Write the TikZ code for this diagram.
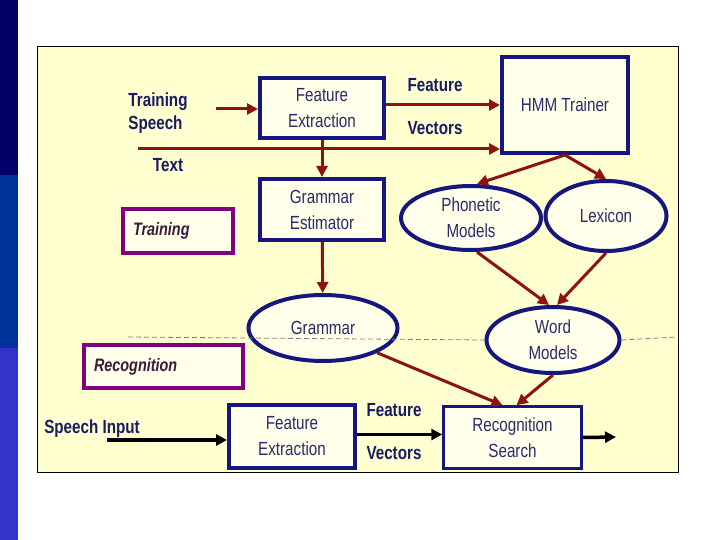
\documentclass[tikz,border=0pt]{standalone}
\usepackage{fontspec}
\setmainfont{Liberation Sans}[FakeStretch=0.8]
\usetikzlibrary{positioning, arrows.meta, shapes.geometric}

\definecolor{stripeA}{HTML}{000066}
\definecolor{stripeB}{HTML}{003399}
\definecolor{stripeC}{HTML}{3333CC}
\definecolor{panel}{HTML}{FFFFCF}
\definecolor{boxfill}{HTML}{FFFFEA}
\definecolor{boxblue}{HTML}{16167F}
\definecolor{boxtext}{HTML}{2B2B6B}
\definecolor{labtext}{HTML}{1A1A66}
\definecolor{tagpurple}{HTML}{800080}
\definecolor{tagtext}{HTML}{3A1A3A}
\definecolor{arrred}{HTML}{8E1212}

\newcommand{\labfont}{\fontsize{19}{23}\selectfont\bfseries}
\newcommand{\boxfont}{\fontsize{19}{26}\selectfont}

\begin{document}
\begin{tikzpicture}[x=1pt, y=-1pt,
  box/.style={draw=boxblue, line width=4pt, fill=boxfill, inner sep=0pt, align=center, font=\boxfont, text=boxtext},
  ell/.style={ellipse, draw=boxblue, line width=4pt, fill=boxfill, inner sep=0pt, align=center, font=\boxfont, text=boxtext},
  tag/.style={draw=tagpurple, line width=4pt, fill=boxfill, inner xsep=10pt, inner ysep=0pt, align=left, font=\fontsize{18}{22}\selectfont\bfseries\itshape, text=tagtext},
  lbl/.style={inner sep=0pt, align=left, font=\labfont, text=labtext},
  arr/.style={-{Triangle[length=11pt,width=11pt]}, line width=3pt, draw=arrred},
  blk/.style={-{Triangle[length=11pt,width=11pt]}, line width=3.5pt, draw=black}
]
\useasboundingbox (0,0) rectangle (720,540);
% --- slide stripe and panel ---
\fill[stripeA] (0,0) rectangle (18,175);
\fill[stripeB] (0,175) rectangle (18,348);
\fill[stripeC] (0,348) rectangle (18,540);
\draw[fill=panel, line width=1pt] (37,47) rectangle (678,472);

% --- training part ---
\node[lbl] (tspeech) at (158,113) {Training\\Speech};
\node[lbl] (txt)     at (168,165) {Text};
\node[box, minimum width=124pt, minimum height=60pt] (fe1) at (322,108) {Feature\\Extraction};
\node[box, minimum width=124pt, minimum height=61pt] (ge)  at (322,209.5) {Grammar\\Estimator};
\node[box, minimum width=126pt, minimum height=96pt] (hmm) at (565,105) {HMM Trainer};
\node[lbl] (fv1) at (435,85)  {Feature};
\node[lbl] (vv1) at (435,128) {Vectors};
\node[ell, minimum width=140pt, minimum height=64pt] (phon) at (471,218) {Phonetic\\Models};
\node[ell, minimum width=121pt, minimum height=70pt] (lex)  at (606,216) {Lexicon};
\node[tag, text width=90pt, minimum height=44pt] (ttag) at (178,231) {Training};

% --- models ---
\node[ell, minimum width=149pt, minimum height=66pt] (gram) at (323,328) {Grammar};
\node[ell, minimum width=133pt, minimum height=66pt] (wm)   at (553,340) {Word\\Models};
\node[tag, text width=139pt, minimum height=43pt] (rtag) at (163.5,366.5) {Recognition};

% --- recognition part ---
\node[lbl] (spin) at (92,429) {Speech Input};
\node[box, minimum width=126pt, minimum height=63pt] (fe2) at (292,436.5) {Feature\\Extraction};
\node[box, line width=2.5pt, minimum width=138pt, minimum height=62pt] (rs) at (512.5,437.5) {Recognition\\Search};
\node[lbl] (fv2) at (394,410) {Feature};
\node[lbl] (vv2) at (394,453) {Vectors};

% --- dividing line ---
\coordinate (divL) at (128,337);
\coordinate (divR) at (677,337);
\draw[gray, line width=0.8pt, dash pattern=on 5pt off 3pt] (divL) -- (wm.west);
\draw[gray, line width=0.8pt, dash pattern=on 5pt off 3pt] (wm.east) -- (divR);

% --- connectors ---
\coordinate (tsIn) at (216,109);
\coordinate (txtIn) at (138,149);
\draw[arr] (tsIn) -- (tsIn -| fe1.west);
\draw[arr] (txtIn) -- (txtIn -| hmm.west);
\draw[arr] ([yshift=3pt]fe1.east) -- ([yshift=3pt]fe1.east -| hmm.west);
\draw[arr] (fe1) -- (ge);
\draw[arr] (hmm.south) -- ([xshift=6pt]phon.north);
\draw[arr] (hmm.south) -- (lex.north);
\draw[arr] ([xshift=6pt]phon.south) -- ([xshift=-4pt]wm.north);
\draw[arr] (lex.south) -- ([xshift=4pt]wm.north);
\draw[arr] (ge) -- (gram);
\draw[arr] (gram.south east) -- ([xshift=-10pt]rs.north);
\draw[arr] (wm.south) -- ([xshift=4pt]rs.north);

\coordinate (spIn) at (107,440);
\coordinate (out) at (616,437);
\draw[blk] (spIn) -- (spIn -| fe2.west);
\draw[blk] ([yshift=2pt]fe2.east) -- ([yshift=2pt]fe2.east -| rs.west);
\draw[blk] (rs.east) -- (out);
\end{tikzpicture}
\end{document}
